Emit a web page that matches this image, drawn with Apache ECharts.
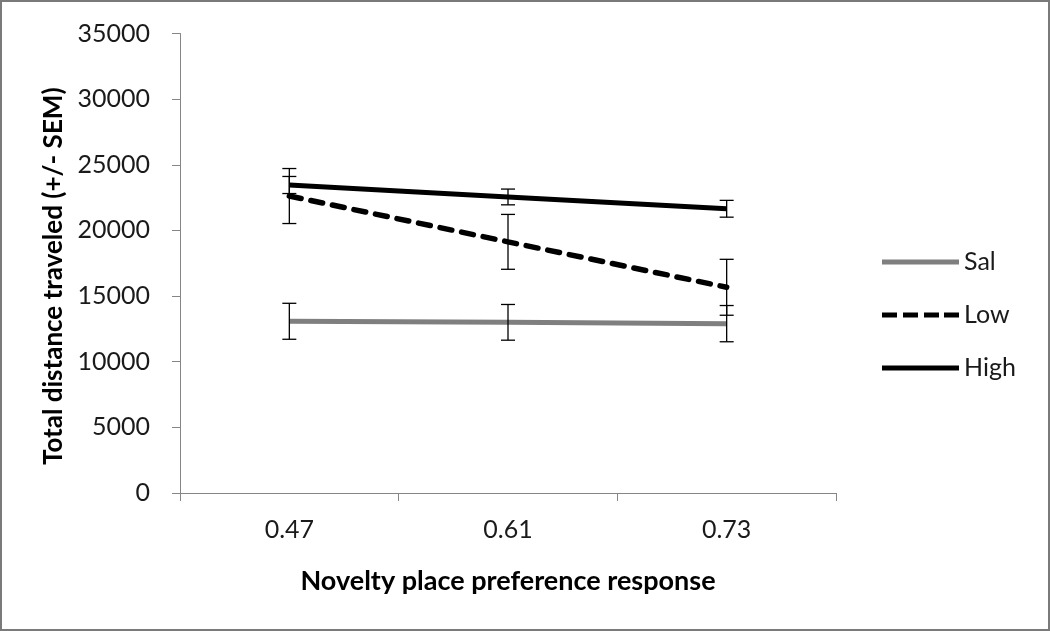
<!DOCTYPE html>
<html>
<head>
<meta charset="utf-8">
<script src="https://cdn.jsdelivr.net/npm/echarts@6/dist/echarts.min.js"></script>
<style>
html,body{margin:0;padding:0;background:#fff;}
#c{width:1050px;height:631px;}
</style>
</head>
<body>
<div id="c"></div>
<script>
var categories = ['0.47', '0.61', '0.73'];
var salValues = [13080, 13000, 12900];
var salErr = [1370, 1360, 1380];
var lowValues = [22620, 19130, 15670];
var lowErr = [2095, 2090, 2130];
var highValues = [23460, 22550, 21650];
var highErr = [650, 600, 640];
var yTicks = [0, 5000, 10000, 15000, 20000, 25000, 30000, 35000];

function errData(vals, errs) {
  return vals.map(function (v, i) { return [i, v - errs[i], v + errs[i]]; });
}
var allErr = [].concat(errData(salValues, salErr), errData(lowValues, lowErr), errData(highValues, highErr));

var FONT = 'Lato, "Open Sans", sans-serif';
var SOLID = 'path://M0,0H77V5H0Z';
var DASH = 'path://M0,0H15V5H0Z M21,0H36V5H21Z M42,0H57V5H42Z M62,0H77V5H62Z';
var chart = echarts.init(document.getElementById('c'));
chart.setOption({
  animation: false,
  backgroundColor: '#fff',
  graphic: [{
    type: 'rect', shape: {x: 1, y: 1, width: 1048, height: 629},
    style: {fill: 'none', stroke: '#7a7a7a', lineWidth: 2}, silent: true
  }],
  grid: {left: 180, right: 214, top: 33.5, bottom: 138},
  legend: {
    orient: 'vertical', left: 882, top: 247, itemGap: 23, padding: 0,
    itemWidth: 77, itemHeight: 5,
    textStyle: {fontSize: 25, lineHeight: 30, color: '#1a1a1a', fontFamily: FONT},
    data: [
      {name: 'Sal', icon: SOLID, itemStyle: {color: '#7f7f7f'}},
      {name: 'Low', icon: DASH, itemStyle: {color: '#000'}},
      {name: 'High', icon: SOLID, itemStyle: {color: '#000'}}
    ]
  },
  xAxis: {
    type: 'category', data: categories, boundaryGap: true,
    name: 'Novelty place preference response', nameLocation: 'middle', nameGap: 75,
    nameTextStyle: {fontSize: 27, fontWeight: 'bold', color: '#000', fontFamily: FONT},
    axisLine: {lineStyle: {color: '#868686', width: 1}},
    axisTick: {show: true, length: 8, alignWithLabel: false, lineStyle: {color: '#868686'}},
    axisLabel: {fontSize: 25, color: '#1a1a1a', margin: 24, fontFamily: FONT},
    splitLine: {show: false}
  },
  yAxis: {
    type: 'value', min: 0, max: 35000, interval: 5000,
    name: 'Total distance traveled (+/- SEM)', nameLocation: 'middle', nameGap: 113,
    nameTextStyle: {fontSize: 26, fontWeight: 'bold', color: '#000', fontFamily: FONT, padding: [0, 26, 0, 0]},
    axisLine: {show: true, lineStyle: {color: '#868686', width: 1}},
    axisTick: {show: true, length: 8, lineStyle: {color: '#868686'}},
    axisLabel: {fontSize: 25, color: '#1a1a1a', margin: 30, fontFamily: FONT,
      formatter: function (v) { return yTicks.indexOf(v) >= 0 ? String(v) : ''; }},
    splitLine: {show: false}
  },
  series: [
    {name: 'Sal', type: 'line', data: salValues, symbol: 'none', z: 3,
     itemStyle: {color: '#7f7f7f'}, lineStyle: {color: '#7f7f7f', width: 5}},
    {name: 'Low', type: 'line', data: lowValues, symbol: 'none', z: 3,
     itemStyle: {color: '#000'}, lineStyle: {color: '#000', width: 5.5, type: [12, 10], cap: 'round'}},
    {name: 'High', type: 'line', data: highValues, symbol: 'none', z: 3,
     itemStyle: {color: '#000'}, lineStyle: {color: '#000', width: 5}},
    {
      type: 'custom', z: 4, silent: true,
      data: allErr,
      encode: {x: 0, y: [1, 2]},
      renderItem: function (params, api) {
        var x = api.value(0);
        var lo = api.coord([x, api.value(1)]);
        var hi = api.coord([x, api.value(2)]);
        var hw = 7;
        var st = {stroke: '#000', lineWidth: 1.3, fill: 'none'};
        return {
          type: 'group',
          children: [
            {type: 'line', shape: {x1: lo[0], y1: lo[1], x2: hi[0], y2: hi[1]}, style: st},
            {type: 'line', shape: {x1: lo[0] - hw, y1: lo[1], x2: lo[0] + hw, y2: lo[1]}, style: st},
            {type: 'line', shape: {x1: hi[0] - hw, y1: hi[1], x2: hi[0] + hw, y2: hi[1]}, style: st}
          ]
        };
      }
    }
  ]
});
</script>
</body>
</html>
